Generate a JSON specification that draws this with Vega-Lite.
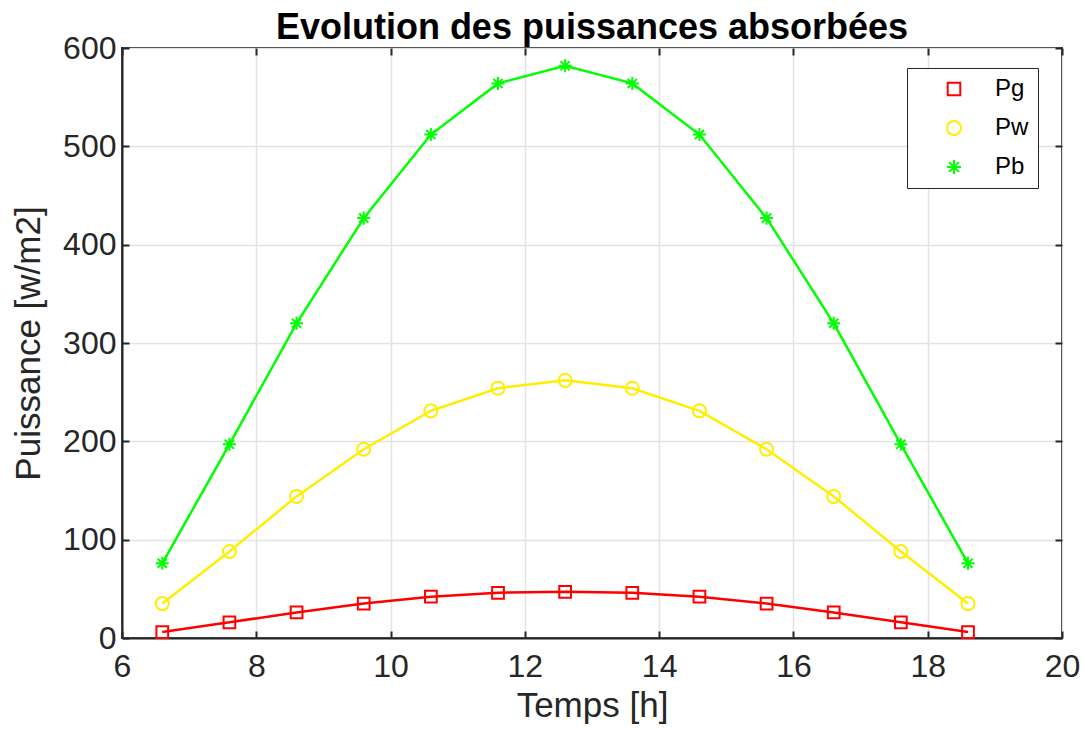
{
  "$schema": "https://vega.github.io/schema/vega-lite/v6.json",
  "width": 940,
  "height": 590,
  "autosize": "none",
  "padding": {"left": 122, "top": 48, "right": 21, "bottom": 93},
  "background": "white",
  "title": {"text": "Evolution des puissances absorbées", "font": "Liberation Sans", "fontSize": 36, "fontWeight": "bold", "color": "#000000", "offset": -15, "anchor": "middle"},
  "config": {
    "view": {"stroke": "#262626", "strokeWidth": 2},
    "axis": {
      "labelFont": "Liberation Sans", "labelFontSize": 32, "labelColor": "#262626",
      "titleFont": "Liberation Sans", "titleFontSize": 35, "titleFontWeight": "normal", "titleColor": "#262626",
      "domainColor": "#262626", "domainWidth": 2,
      "tickColor": "#262626", "tickWidth": 2, "tickSize": -7,
      "gridColor": "#e3e3e3", "gridWidth": 1.5
    }
  },
  "data": {"values": [
    {"t": 6.6, "s": "Pg", "v": 6}, {"t": 7.6, "s": "Pg", "v": 16}, {"t": 8.6, "s": "Pg", "v": 26}, {"t": 9.6, "s": "Pg", "v": 35}, {"t": 10.6, "s": "Pg", "v": 42}, {"t": 11.6, "s": "Pg", "v": 46}, {"t": 12.6, "s": "Pg", "v": 47}, {"t": 13.6, "s": "Pg", "v": 46}, {"t": 14.6, "s": "Pg", "v": 42}, {"t": 15.6, "s": "Pg", "v": 35}, {"t": 16.6, "s": "Pg", "v": 26}, {"t": 17.6, "s": "Pg", "v": 16}, {"t": 18.6, "s": "Pg", "v": 6},
    {"t": 6.6, "s": "Pw", "v": 35}, {"t": 7.6, "s": "Pw", "v": 88}, {"t": 8.6, "s": "Pw", "v": 144}, {"t": 9.6, "s": "Pw", "v": 192}, {"t": 10.6, "s": "Pw", "v": 231}, {"t": 11.6, "s": "Pw", "v": 254}, {"t": 12.6, "s": "Pw", "v": 262}, {"t": 13.6, "s": "Pw", "v": 254}, {"t": 14.6, "s": "Pw", "v": 231}, {"t": 15.6, "s": "Pw", "v": 192}, {"t": 16.6, "s": "Pw", "v": 144}, {"t": 17.6, "s": "Pw", "v": 88}, {"t": 18.6, "s": "Pw", "v": 35},
    {"t": 6.6, "s": "Pb", "v": 76}, {"t": 7.6, "s": "Pb", "v": 197}, {"t": 8.6, "s": "Pb", "v": 320}, {"t": 9.6, "s": "Pb", "v": 427}, {"t": 10.6, "s": "Pb", "v": 512}, {"t": 11.6, "s": "Pb", "v": 564}, {"t": 12.6, "s": "Pb", "v": 582}, {"t": 13.6, "s": "Pb", "v": 564}, {"t": 14.6, "s": "Pb", "v": 512}, {"t": 15.6, "s": "Pb", "v": 427}, {"t": 16.6, "s": "Pb", "v": 320}, {"t": 17.6, "s": "Pb", "v": 197}, {"t": 18.6, "s": "Pb", "v": 76}
  ]},
  "layer": [
    {
      "mark": {"type": "line", "strokeWidth": 2.5},
      "encoding": {
        "x": {"field": "t", "type": "quantitative", "scale": {"domain": [6, 20], "nice": false, "zero": false}, "axis": {"orient": "bottom", "values": [6, 8, 10, 12, 14, 16, 18, 20], "title": "Temps [h]", "labelPadding": 20, "titlePadding": 6, "labelFlush": false, "labelOverlap": false}},
        "y": {"field": "v", "type": "quantitative", "scale": {"domain": [0, 600], "nice": false}, "axis": {"orient": "left", "values": [0, 100, 200, 300, 400, 500, 600], "title": "Puissance [w/m2]", "labelPadding": 13, "titlePadding": 16, "labelFlush": false, "labelOverlap": false}},
        "color": {"field": "s", "type": "nominal", "scale": {"domain": ["Pg", "Pw", "Pb"], "range": ["#ff0000", "#ffee00", "#00ff00"]}}
      }
    },
    {
      "mark": {"type": "point", "filled": false, "strokeWidth": 2, "size": 170, "opacity": 1},
      "encoding": {
        "x": {"field": "t", "type": "quantitative", "axis": {"orient": "top", "values": [6, 8, 10, 12, 14, 16, 18, 20], "labels": false, "title": null, "grid": false, "domain": false}},
        "y": {"field": "v", "type": "quantitative", "axis": {"orient": "right", "values": [0, 100, 200, 300, 400, 500, 600], "labels": false, "title": null, "grid": false, "domain": false}},
        "color": {"field": "s", "type": "nominal", "scale": {"domain": ["Pg", "Pw", "Pb"], "range": ["#ff0000", "#ffee00", "#00ff00"]},
          "legend": {
            "title": null, "orient": "none", "legendX": 785, "legendY": 20,
            "padding": 9, "strokeColor": "#262626", "fillColor": "white",
            "labelFont": "Liberation Sans", "labelFontSize": 24, "labelColor": "#000000", "labelOffset": 29, "symbolOffset": 26,
            "symbolSize": 196, "symbolStrokeWidth": 2, "symbolFillColor": "transparent", "rowPadding": 15
          }
        },
        "shape": {"field": "s", "type": "nominal", "scale": {"domain": ["Pg", "Pw", "Pb"], "range": ["M-0.9,-0.9H0.9V0.9H-0.9Z", "circle", "M-1,0H1M0,-1V1M-0.7,-0.7L0.7,0.7M-0.7,0.7L0.7,-0.7"]}, "legend": null}
      }
    }
  ]
}
